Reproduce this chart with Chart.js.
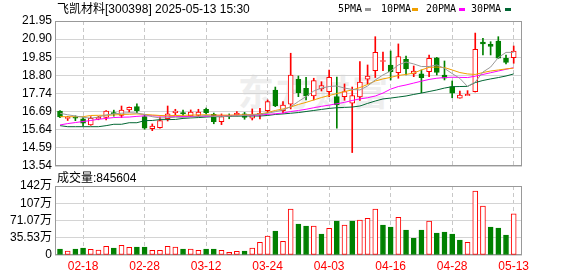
<!DOCTYPE html>
<html>
<head>
<meta charset="utf-8">
<script src="https://cdn.jsdelivr.net/npm/chart.js@4.4.1/dist/chart.umd.min.js"></script>
<style>
body { margin: 0; background: #fff; }
#wrap { position: relative; width: 578px; height: 276px; overflow: hidden;
        font-family: "Liberation Sans", "Noto Sans CJK SC", sans-serif; font-size: 12px; color: #000; }
canvas { position: absolute; left: 0; top: 0; }
.t { position: absolute; white-space: nowrap; line-height: 14px; }
.lg { position: absolute; top: 3px; white-space: nowrap; font-family: "DejaVu Sans Mono", monospace; font-size: 10px; line-height: 12px; }
.dash { position: absolute; top: 8px; width: 6px; height: 3px; }
#wm { position: absolute; left: 238px; top: 64px; font-family: "Noto Sans CJK SC"; font-size: 36px;
      font-weight: bold; color: #eeeeee; letter-spacing: 2px; white-space: nowrap; }
</style>
</head>
<body>
<div id="wrap">
  <div id="wm">东方财富</div>
  <canvas id="priceChart" width="578" height="276"></canvas>
  <canvas id="volChart" width="578" height="276"></canvas>
  <div class="t" style="left:57px;top:2px">飞凯材料[300398] 2025-05-13 15:30</div>
  <div class="lg" style="left:338px">5PMA</div><div class="dash" style="left:365px;background:#999999"></div>
  <div class="lg" style="left:381px">10PMA</div><div class="dash" style="left:412px;background:#f0a000"></div>
  <div class="lg" style="left:426px">20PMA</div><div class="dash" style="left:459px;background:#ff00ff"></div>
  <div class="lg" style="left:471px">30PMA</div><div class="dash" style="left:505px;background:#006633"></div>
  <div class="t" style="left:57px;top:171px">成交量:845604</div>
</div>
<script>
// colours
const RED   = '#ff0000';
const GREEN = '#008000';
const FRAME = '#999999';
const GRID  = '#d4d4d4';
const VGRID = '#c8c8c8';
const MA_COLORS = ['#999999', '#f0a000', '#ff00ff', '#006633'];

// trading days (categories)
const dates = ['02-13','02-14','02-17','02-18','02-19','02-20','02-21','02-24','02-25','02-26',
               '02-27','02-28','03-03','03-04','03-05','03-06','03-07','03-10','03-11','03-12',
               '03-13','03-14','03-17','03-18','03-19','03-20','03-21','03-24','03-25','03-26',
               '03-27','03-28','03-31','04-01','04-02','04-03','04-07','04-08','04-09','04-10',
               '04-11','04-14','04-15','04-16','04-17','04-18','04-21','04-22','04-23','04-24',
               '04-25','04-28','04-29','04-30','05-06','05-07','05-08','05-09','05-12','05-13'];

// daily prices
const opens  = [16.73,16.30,16.33,16.27,15.92,16.28,16.36,16.60,16.47,16.79,
                16.99,16.40,15.71,15.76,16.28,16.63,16.60,16.44,16.47,16.83,
                16.54,16.11,16.44,16.50,16.56,16.31,16.50,16.75,17.95,16.75,
                17.12,18.57,18.05,17.60,18.01,17.85,17.56,17.56,17.19,17.54,
                18.57,19.07,19.60,19.40,18.95,19.73,18.88,18.88,19.01,19.82,
                18.82,18.14,17.47,17.62,17.85,20.73,20.60,20.79,19.79,19.82];
const highs  = [16.75,16.42,16.45,16.38,16.40,16.42,16.75,16.78,17.02,16.96,
                17.14,16.50,15.98,16.38,17.02,16.83,16.78,16.79,16.83,16.90,
                16.61,16.56,16.56,16.69,16.65,16.85,16.89,17.37,18.12,17.27,
                20.08,18.76,18.68,18.63,18.43,19.11,18.70,18.30,18.12,19.59,
                19.40,21.04,20.15,20.21,20.62,19.92,19.34,19.11,19.98,19.84,
                19.63,18.47,17.89,17.91,21.25,20.94,20.75,21.04,19.98,20.50];
const lows   = [16.35,16.18,16.17,15.86,15.90,16.22,16.21,16.43,16.35,16.67,
                16.63,15.67,15.59,15.74,16.15,16.50,16.48,16.40,16.40,16.56,
                15.99,15.94,16.28,16.44,16.25,16.21,16.27,16.63,16.98,16.61,
                16.85,17.56,17.37,17.37,17.89,17.56,15.73,17.35,14.32,17.34,
                18.30,18.67,19.07,18.53,18.63,18.82,18.72,17.79,18.72,18.82,
                18.53,17.50,17.47,17.62,17.83,19.98,19.98,19.79,19.46,19.50];
const closes = [16.38,16.32,16.31,16.02,16.30,16.36,16.73,16.58,16.79,16.94,
                16.75,15.73,15.86,16.17,16.56,16.73,16.58,16.67,16.67,16.63,
                16.11,16.40,16.42,16.61,16.36,16.50,16.60,17.27,17.02,17.08,
                18.82,17.79,17.60,18.49,18.20,18.68,17.08,17.85,17.63,18.41,
                18.76,20.13,19.66,19.01,19.88,19.17,19.05,18.66,19.79,18.97,
                18.63,17.76,17.66,17.69,20.31,20.62,20.48,19.79,19.55,20.21];

// moving averages as drawn
const ma5  = [16.60,16.51,16.44,16.37,16.31,16.38,16.50,16.57,16.60,16.63,
              16.61,16.53,16.40,16.33,16.34,16.37,16.36,16.37,16.41,16.47,
              16.41,16.40,16.43,16.45,16.48,16.50,16.54,16.60,16.69,16.79,
              16.98,17.28,17.57,17.89,18.06,18.15,18.18,18.06,17.98,17.95,
              18.18,18.53,18.82,19.05,19.40,19.57,19.46,19.31,19.31,19.40,
              19.20,18.90,18.62,18.15,18.41,18.99,19.28,19.83,20.13,20.13];
const ma10 = [16.40,16.40,16.40,16.40,16.47,16.48,16.48,16.50,16.53,16.54,
              16.56,16.53,16.50,16.47,16.45,16.47,16.48,16.49,16.50,16.51,
              16.50,16.49,16.49,16.50,16.51,16.53,16.56,16.64,16.76,16.85,
              16.96,17.11,17.23,17.37,17.51,17.63,17.74,17.86,17.95,18.09,
              18.27,18.47,18.59,18.68,18.79,18.85,18.93,19.11,19.26,19.28,
              19.25,19.11,18.96,18.88,18.85,18.96,19.05,19.11,19.17,19.22];
const ma20 = [15.92,16.00,16.06,16.12,16.18,16.25,16.30,16.35,16.37,16.38,
              16.42,16.45,16.45,16.44,16.43,16.42,16.41,16.41,16.42,16.43,
              16.44,16.46,16.47,16.48,16.49,16.49,16.50,16.53,16.57,16.61,
              16.70,16.76,16.83,16.92,17.00,17.07,17.15,17.23,17.34,17.43,
              17.50,17.60,17.77,18.00,18.15,18.24,18.35,18.46,18.56,18.63,
              18.67,18.69,18.68,18.67,18.75,18.85,18.95,19.05,19.15,19.24];
const ma30 = [15.88,15.82,15.82,15.82,15.82,15.82,15.88,15.96,15.96,16.05,
              16.05,16.17,16.18,16.23,16.23,16.24,16.30,16.33,16.35,16.38,
              16.40,16.41,16.42,16.43,16.44,16.44,16.44,16.47,16.53,16.56,
              16.60,16.64,16.70,16.76,16.82,16.88,16.92,16.94,16.96,17.02,
              17.17,17.31,17.43,17.48,17.54,17.60,17.69,17.77,17.86,17.95,
              18.06,18.14,18.15,18.16,18.38,18.50,18.59,18.67,18.76,18.88];

// volume in 万, and whether the bar is drawn red (1) or green (0)
const volumes = [12.4, 8.2,12.4,14.4,11.7,10.3,17.9,14.4,19.9,15.8,
                 16.5,16.5, 9.6, 9.6,17.9,16.5,12.4,12.4, 9.6,12.4,
                 12.4, 9.6, 5.5, 7.6, 8.2,14.4,26.1,39.1,49.4,28.2,
                 94.8,63.9,59.7,59.7,43.3,55.0,70.0,61.8,70.0,72.1,
                 75.6,94.8,61.8,57.7,77.6,51.5,34.4,51.5,70.0,45.3,
                 47.4,43.3,30.9,26.1,131.8,100.9,57.7,55.6,41.2,84.56];
const volUp = [0,1,0,0,1,1,1,0,1,1, 0,0,1,1,1,1,0,1,1,0, 0,1,1,1,0,1,1,1,0,1,
               1,0,0,1,0,1,0,1,0,1, 1,1,0,0,1,0,0,0,1,0, 0,0,0,1,1,1,0,0,0,1];

// axis ticks
const dateTicks  = ['02-18','02-28','03-12','03-24','04-03','04-16','04-28','05-13'];
const priceTicks = [13.54,14.59,15.64,16.69,17.74,18.80,19.85,20.90,21.95];
const volTicks   = [0, 35.53, 71.07, 106.6, 142.14];
const volLabels  = ['0','35.53万','71.07万','107万','142万'];

const tickIdx = dateTicks.map(d => dates.indexOf(d));
const isUp = i => closes[i] >= opens[i];
const X_MIN = -0.65, X_MAX = 60.08;

// grey frame round each plot area
const framePlugin = {
    id: 'frame',
    beforeDatasetsDraw(chart) {
        const { ctx, chartArea: a } = chart;
        ctx.save();
        ctx.strokeStyle = FRAME;
        ctx.lineWidth = 1;
        ctx.strokeRect(Math.round(a.left) + 0.5, Math.round(a.top) + 0.5,
                       Math.round(a.width) - 1, Math.round(a.height) - 1);
        ctx.restore();
    }
};

const tickFont = { family: '"Liberation Sans", "Noto Sans CJK SC"', size: 12 };

function xAxis(showLabels) {
    return {
        type: 'linear',
        min: X_MIN,
        max: X_MAX,
        offset: false,
        afterBuildTicks: s => { s.ticks = tickIdx.map(v => ({ value: v })); },
        afterFit: s => { s.height = showLabels ? 21 : 0; },
        grid: { color: VGRID, offset: false, drawTicks: false },
        border: { display: false, dash: [4, 3] },
        ticks: {
            display: showLabels,
            autoSkip: false,
            maxRotation: 0,
            padding: 4,
            color: RED,
            font: tickFont,
            callback: v => dates[v]
        }
    };
}

function yAxis(min, max, vals, label) {
    return {
        min: min,
        max: max,
        afterBuildTicks: s => { s.ticks = vals.map(v => ({ value: v })); },
        afterFit: s => { s.width = 55; },
        grid: { color: GRID, drawTicks: false },
        border: { display: false },
        ticks: { color: '#000', padding: 3, autoSkip: false, font: tickFont, callback: label }
    };
}

const maSets = [ma5, ma10, ma20, ma30].map((arr, k) => ({
    type: 'line',
    data: arr.map((v, i) => ({ x: i, y: v })),
    borderColor: MA_COLORS[k],
    borderWidth: 1,
    pointRadius: 0,
    tension: 0,
    order: 0
}));

new Chart(document.getElementById('priceChart'), {
    type: 'bar',
    data: {
        datasets: [
            {
                // high-low wicks
                data: dates.map((d, i) => ({ x: i, y: [lows[i], highs[i]] })),
                backgroundColor: c => isUp(c.dataIndex) ? RED : GREEN,
                barThickness: 1,
                grouped: false,
                order: 2
            },
            {
                // open-close bodies, hollow when up
                data: dates.map((d, i) => ({ x: i, y: [opens[i], closes[i]] })),
                backgroundColor: c => isUp(c.dataIndex) ? '#ffffff' : GREEN,
                borderColor: c => isUp(c.dataIndex) ? RED : GREEN,
                borderWidth: 1,
                borderSkipped: false,
                barThickness: 5,
                minBarLength: 1,
                grouped: false,
                order: 1
            },
            ...maSets
        ]
    },
    options: {
        responsive: false,
        animation: false,
        layout: { padding: { left: 0, right: 56, top: 21, bottom: 110 } },
        plugins: { legend: { display: false }, tooltip: { enabled: false } },
        scales: {
            x: xAxis(false),
            y: yAxis(13.54, 21.95, priceTicks, v => v.toFixed(2))
        }
    },
    plugins: [framePlugin]
});

new Chart(document.getElementById('volChart'), {
    type: 'bar',
    data: {
        datasets: [{
            data: volumes.map((v, i) => ({ x: i, y: v })),
            backgroundColor: c => volUp[c.dataIndex] ? '#ffffff' : GREEN,
            borderColor: c => volUp[c.dataIndex] ? RED : GREEN,
            borderWidth: 1,
            borderSkipped: false,
            barThickness: 5,
            grouped: false
        }]
    },
    options: {
        responsive: false,
        animation: false,
        layout: { padding: { left: 0, right: 56, top: 186, bottom: 0 } },
        plugins: { legend: { display: false }, tooltip: { enabled: false } },
        scales: {
            x: xAxis(true),
            y: yAxis(0, 142.14, volTicks, (v, i) => volLabels[i])
        }
    },
    plugins: [framePlugin]
});
</script>
</body>
</html>
